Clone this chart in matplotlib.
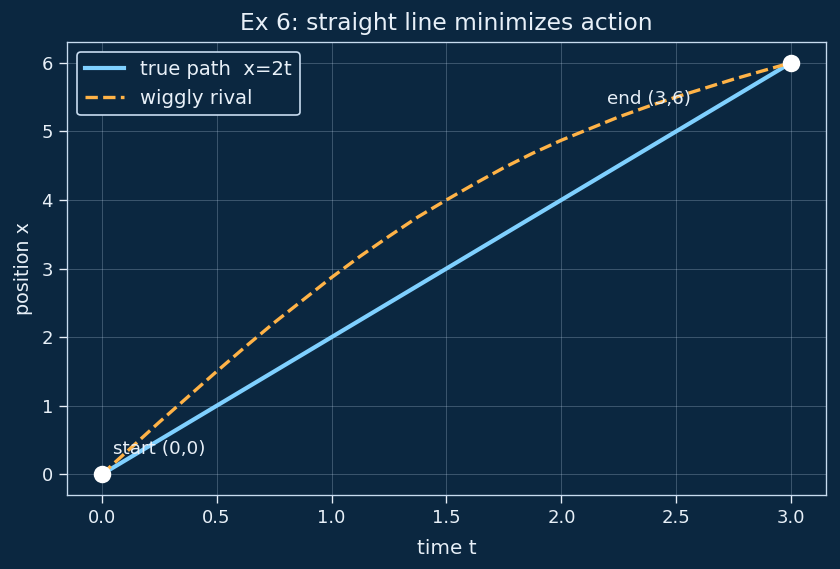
import numpy as np
import matplotlib
matplotlib.use('Agg')
import matplotlib.pyplot as plt

bg = '#0b2740'
fg = '#e8f0f8'

t_true = [0.0, 3.0]
x_true = [0.0, 6.0]

# rival path, every 0.125 in t
t_rival = [0.0, 0.125, 0.25, 0.375, 0.5, 0.625, 0.75, 0.875, 1.0, 1.125, 1.25, 1.375,
           1.5, 1.625, 1.75, 1.875, 2.0, 2.125, 2.25, 2.375, 2.5, 2.625, 2.75, 2.875, 3.0]
x_rival = [0.0, 0.38, 0.76, 1.13, 1.5, 1.86, 2.21, 2.54, 2.87, 3.18, 3.47, 3.75,
           4.0, 4.24, 4.47, 4.68, 4.87, 5.04, 5.21, 5.36, 5.5, 5.63, 5.76, 5.88, 6.0]

ends_t = [0.0, 3.0]
ends_x = [0.0, 6.0]

fig, ax = plt.subplots(figsize=(7.0, 4.742), dpi=120)
fig.patch.set_facecolor(bg)
ax.set_facecolor(bg)

ax.plot(t_true, x_true, color='#7fd0ff', lw=2.5, label='true path  x=2t')
ax.plot(t_rival, x_rival, color='#ffb347', lw=2, ls='--', label='wiggly rival')
ax.scatter(ends_t, ends_x, s=90, color='white', zorder=5)

ax.text(0.05, 0.3, 'start (0,0)', color=fg, fontsize=11)
ax.text(2.2, 5.4, 'end (3,6)', color=fg, fontsize=11)

ax.set_title('Ex 6: straight line minimizes action', color=fg, fontsize=14, pad=7)
ax.set_xlabel('time t', color=fg, fontsize=12, labelpad=7)
ax.set_ylabel('position x', color=fg, fontsize=11.5, labelpad=5)
ax.tick_params(colors=fg, labelsize=10.8, length=5)
for s in ax.spines.values():
    s.set_color('#c8dcf0')
ax.grid(True, color='#c8dcf0', alpha=0.25, lw=0.6)

leg = ax.legend(loc='upper left', fontsize=11.8, facecolor=bg, edgecolor='#c8dcf0', framealpha=1)
for txt in leg.get_texts():
    txt.set_color(fg)

fig.subplots_adjust(left=0.080, right=0.983, top=0.926, bottom=0.130)
fig.savefig('out.png', facecolor=bg)
